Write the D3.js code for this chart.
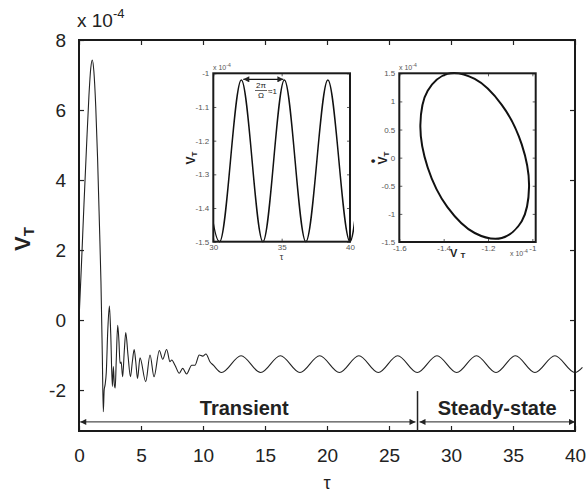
<!DOCTYPE html>
<html>
<head>
<meta charset="utf-8">
<script src="https://cdn.jsdelivr.net/npm/d3@7"></script>
<style>
  html, body { margin: 0; padding: 0; background: #fff; }
  svg text { font-family: "Liberation Sans", Arial, Helvetica, sans-serif; }
</style>
</head>
<body>
<svg id="chart" width="586" height="496"></svg>
<script>
// Transient response V_T (x 1e-4) versus dimensionless time tau
const transientTau = [0, 0.2, 0.4, 0.6, 0.8, 0.95, 1.07, 1.2, 1.35, 1.5, 1.65, 1.77, 1.88, 1.96,
  2.03, 2.1, 2.2, 2.32, 2.45, 2.56, 2.69, 2.77, 2.85, 2.92, 3.0, 3.12, 3.22, 3.31, 3.4, 3.52,
  3.65, 3.77, 3.95, 4.15, 4.3, 4.45, 4.58, 4.72, 4.92, 5.38, 5.73, 6.05, 6.48, 6.75, 7.07,
  7.34, 7.48, 7.74, 8.09, 8.36, 8.68, 9.09, 9.35, 9.7, 9.97, 10.24, 10.56, 10.83];
const transientV = [0, 1.6, 3.3, 4.9, 6.4, 7.2, 7.43, 7.1, 6.1, 4.6, 2.7, 1.1, -1.0, -2.62,
  -2.0, -1.86, -1.5, -0.3, 0.4, -0.4, -1.9, -1.33, -1.85, -1.94, -1.2, -0.15, -0.6, -1.24, -1.2, -1.62,
  -0.9, -0.36, -1.0, -1.62, -1.2, -0.84, -1.2, -1.67, -1.08, -1.76, -1.0, -1.62, -0.87, -1.12, -0.84,
  -1.19, -1.14, -1.29, -1.52, -1.38, -1.54, -1.29, -1.29, -1.0, -1.03, -0.97, -1.19, -1.29];

// Steady-state oscillation: successive troughs and crests
const steadyTau = [11.49, 13.07, 14.65, 16.24, 17.82, 19.41, 21.0, 22.57, 24.14, 25.7, 27.28,
  28.87, 30.46, 32.05, 33.63, 35.2, 36.77, 38.38, 40.0, 40.6];
const steadyV = [-1.5, -1.02, -1.5, -1.02, -1.5, -1.02, -1.5, -1.02, -1.5, -1.02, -1.5,
  -1.02, -1.5, -1.02, -1.5, -1.02, -1.5, -1.02, -1.5, -1.35];

// Phase-plane orbit: V_T (x 1e-4) against dV_T/dtau (x 1e-4)
const orbitV    = [-1.015, -1.048, -1.138, -1.26, -1.383, -1.472, -1.505, -1.472, -1.383, -1.26, -1.138, -1.048];
const orbitVdot = [-0.52, -1.13, -1.43, -1.34, -0.88, -0.175, 0.58, 1.19, 1.49, 1.40, 0.94, 0.235];

// Tick values
const mainXTicks = [0, 5, 10, 15, 20, 25, 30, 35, 40];
const mainYTicks = [-2, 0, 2, 4, 6, 8];
const zoomXTicks = [30, 35, 40];
const zoomYTicks = [-1, -1.1, -1.2, -1.3, -1.4, -1.5];
const orbitXTicks = [-1.6, -1.4, -1.2, -1];
const orbitYTicks = [1.5, 1, 0.5, 0, -0.5, -1, -1.5];

// Region labels
const regionLabels = ["Transient", "Steady-state"];
const regionSplit = 27.3;

const plain = d => String(d);   // keep an ASCII hyphen for negatives

const signal = transientTau.map((t, i) => ({t, v: transientV[i]}))
  .concat(steadyTau.map((t, i) => ({t, v: steadyV[i]})));
const orbit = orbitV.map((v, i) => ({v, d: orbitVdot[i]}));

const svg = d3.select("#chart");
svg.append("rect").attr("width", 586).attr("height", 496).attr("fill", "#fff");

const defs = svg.append("defs");
defs.append("marker").attr("id", "ah").attr("viewBox", "0 0 10 10")
  .attr("refX", 10).attr("refY", 5).attr("markerWidth", 8).attr("markerHeight", 6)
  .attr("markerUnits", "userSpaceOnUse").attr("orient", "auto-start-reverse")
  .append("path").attr("d", "M0,0L10,5L0,10z").attr("fill", "#222");

// ---------- main panel ----------
const x = d3.scaleLinear().domain([0, 40]).range([79, 575]);
const y = d3.scaleLinear().domain([-3.17, 8]).range([431, 40]);

const tickFont = 19;
function styleAxis(g) {
  g.select(".domain").remove();
  g.selectAll(".tick line").attr("stroke", "#222").attr("stroke-width", 1.2);
  g.selectAll(".tick text").attr("fill", "#222").attr("font-size", tickFont);
}

svg.append("g").attr("transform", `translate(0,${y.range()[0]})`)
  .call(d3.axisBottom(x).tickValues(mainXTicks).tickSize(-5).tickPadding(17.5).tickFormat(plain))
  .call(styleAxis);
svg.append("g").attr("transform", `translate(0,${y.range()[1]})`)
  .call(d3.axisTop(x).tickValues(mainXTicks).tickSize(-5).tickFormat(""))
  .call(styleAxis);
svg.append("g").attr("transform", `translate(${x.range()[0]},0)`)
  .call(d3.axisLeft(y).tickValues(mainYTicks).tickSize(-5).tickPadding(13).tickFormat(plain))
  .call(styleAxis);
svg.append("g").attr("transform", `translate(${x.range()[1]},0)`)
  .call(d3.axisRight(y).tickValues(mainYTicks).tickSize(-5).tickFormat(""))
  .call(styleAxis);

// response curve
svg.append("path").datum(signal)
  .attr("fill", "none").attr("stroke", "#222").attr("stroke-width", 1.1)
  .attr("stroke-linejoin", "round")
  .attr("d", d3.line().x(d => x(d.t)).y(d => y(d.v)).curve(d3.curveMonotoneX));

// frame
svg.append("rect").attr("x", x.range()[0]).attr("y", y.range()[1])
  .attr("width", x.range()[1] - x.range()[0]).attr("height", y.range()[0] - y.range()[1])
  .attr("fill", "none").attr("stroke", "#1a1a1a").attr("stroke-width", 2);

// transient / steady-state annotation
const arrowV = -2.91;
svg.append("line").attr("x1", x(regionSplit)).attr("x2", x(regionSplit))
  .attr("y1", y(-2.03)).attr("y2", y.range()[0])
  .attr("stroke", "#222").attr("stroke-width", 1.5);
svg.append("line").attr("x1", x(0.1)).attr("x2", x(regionSplit) - 2)
  .attr("y1", y(arrowV)).attr("y2", y(arrowV))
  .attr("stroke", "#222").attr("stroke-width", 1)
  .attr("marker-start", "url(#ah)").attr("marker-end", "url(#ah)");
svg.append("line").attr("x1", x(regionSplit) + 2).attr("x2", x(40))
  .attr("y1", y(arrowV)).attr("y2", y(arrowV))
  .attr("stroke", "#222").attr("stroke-width", 1)
  .attr("marker-start", "url(#ah)").attr("marker-end", "url(#ah)");
svg.append("text").attr("x", x(regionSplit / 2) - 4).attr("y", 415)
  .attr("text-anchor", "middle").attr("font-size", 20).attr("font-weight", "bold")
  .attr("fill", "#222").text(regionLabels[0]);
svg.append("text").attr("x", (x(regionSplit) + x(40)) / 2 + 1).attr("y", 415)
  .attr("text-anchor", "middle").attr("font-size", 20).attr("font-weight", "bold")
  .attr("fill", "#222").text(regionLabels[1]);

// axis titles
const mult = svg.append("text").attr("x", 77).attr("y", 27).attr("font-size", 19).attr("fill", "#222");
mult.append("tspan").text("x 10");
mult.append("tspan").attr("font-size", 13).attr("dy", -9).text("-4");

svg.append("text").attr("x", (x.range()[0] + x.range()[1]) / 2).attr("y", 489)
  .attr("text-anchor", "middle").attr("font-size", 18).attr("fill", "#222").text("τ");

const yl = svg.append("text").attr("transform", "translate(30,239) rotate(-90)")
  .attr("text-anchor", "middle").attr("font-size", 22).attr("font-weight", "bold").attr("fill", "#222");
yl.append("tspan").text("V");
yl.append("tspan").attr("font-size", 15).attr("dy", 4).text("T");

// ---------- helper for inset panels ----------
function insetAxes(g, sx, sy, xt, yt) {
  const small = g2 => {
    g2.select(".domain").remove();
    g2.selectAll(".tick line").attr("stroke", "#333").attr("stroke-width", 0.8);
    g2.selectAll(".tick text").attr("fill", "#555").attr("font-size", 8);
  };
  g.append("g").attr("transform", `translate(0,${sy.range()[0]})`)
    .call(d3.axisBottom(sx).tickValues(xt).tickSize(-3).tickPadding(3).tickFormat(plain)).call(small);
  g.append("g").attr("transform", `translate(0,${sy.range()[1]})`)
    .call(d3.axisTop(sx).tickValues(xt).tickSize(-3).tickFormat("")).call(small);
  g.append("g").attr("transform", `translate(${sx.range()[0]},0)`)
    .call(d3.axisLeft(sy).tickValues(yt).tickSize(-3).tickPadding(4).tickFormat(plain)).call(small);
  g.append("g").attr("transform", `translate(${sx.range()[1]},0)`)
    .call(d3.axisRight(sy).tickValues(yt).tickSize(-3).tickFormat("")).call(small);
}
function frame(g, sx, sy) {
  g.append("rect").attr("x", sx.range()[0]).attr("y", sy.range()[1])
    .attr("width", sx.range()[1] - sx.range()[0]).attr("height", sy.range()[0] - sy.range()[1])
    .attr("fill", "none").attr("stroke", "#1a1a1a").attr("stroke-width", 2);
}
function smallMult(g, px, py) {
  const t = g.append("text").attr("x", px).attr("y", py).attr("font-size", 7).attr("fill", "#555");
  t.append("tspan").text("x 10");
  t.append("tspan").attr("font-size", 5).attr("dy", -3).text("-4");
}

// ---------- inset 1: steady-state time trace ----------
const g1 = svg.append("g");
const x1 = d3.scaleLinear().domain([30, 40]).range([213.3, 350]);
const y1 = d3.scaleLinear().domain([-1.5, -1]).range([241.7, 73.3]);
g1.append("rect").attr("x", x1.range()[0]).attr("y", y1.range()[1])
  .attr("width", x1.range()[1] - x1.range()[0]).attr("height", y1.range()[0] - y1.range()[1])
  .attr("fill", "#fff");
insetAxes(g1, x1, y1, zoomXTicks, zoomYTicks);
defs.append("clipPath").attr("id", "clip1").append("rect")
  .attr("x", x1.range()[0]).attr("y", y1.range()[1] - 5)
  .attr("width", x1.range()[1] - x1.range()[0] + 4).attr("height", y1.range()[0] - y1.range()[1] + 10);
g1.append("path").datum(steadyTau.map((t, i) => ({t, v: steadyV[i]})).filter(d => d.t >= 28))
  .attr("clip-path", "url(#clip1)")
  .attr("fill", "none").attr("stroke", "#111").attr("stroke-width", 1.5)
  .attr("d", d3.line().x(d => x1(d.t)).y(d => y1(d.v)).curve(d3.curveMonotoneX));
frame(g1, x1, y1);
smallMult(g1, 213, 70);
g1.append("text").attr("x", (x1.range()[0] + x1.range()[1]) / 2).attr("y", 260)
  .attr("text-anchor", "middle").attr("font-size", 9).attr("fill", "#333").text("τ");
const yl1 = g1.append("text").attr("transform", "translate(195,158) rotate(-90)")
  .attr("text-anchor", "middle").attr("font-size", 12).attr("font-weight", "bold").attr("fill", "#222");
yl1.append("tspan").text("V");
yl1.append("tspan").attr("font-size", 8).attr("dy", 2).text("T");

// period annotation between two crests
const crestA = steadyTau[13], crestB = steadyTau[15];
const annV = -1.018;
g1.append("line").attr("x1", x1(crestA) + 2).attr("x2", x1(crestB) - 1)
  .attr("y1", y1(annV)).attr("y2", y1(annV))
  .attr("stroke", "#111").attr("stroke-width", 1.2)
  .attr("marker-start", "url(#ah)").attr("marker-end", "url(#ah)");
const fx = 261;
g1.append("text").attr("x", fx).attr("y", 88).attr("text-anchor", "middle")
  .attr("font-size", 8).attr("fill", "#222").text("2π");
g1.append("line").attr("x1", fx - 6).attr("x2", fx + 6).attr("y1", 90.5).attr("y2", 90.5)
  .attr("stroke", "#222").attr("stroke-width", 0.7);
g1.append("text").attr("x", fx).attr("y", 98).attr("text-anchor", "middle")
  .attr("font-size", 8).attr("fill", "#222").text("Ω");
g1.append("text").attr("x", fx + 7).attr("y", 94).attr("font-size", 8).attr("fill", "#222").text("≈1");

// ---------- inset 2: phase-plane orbit ----------
const g2 = svg.append("g");
const x2 = d3.scaleLinear().domain([-1.6, -0.985]).range([399.3, 535.7]);
const y2 = d3.scaleLinear().domain([-1.5, 1.5]).range([242, 73.3]);
g2.append("rect").attr("x", x2.range()[0]).attr("y", y2.range()[1])
  .attr("width", x2.range()[1] - x2.range()[0]).attr("height", y2.range()[0] - y2.range()[1])
  .attr("fill", "#fff");
insetAxes(g2, x2, y2, orbitXTicks, orbitYTicks);
g2.append("path").datum(orbit)
  .attr("fill", "none").attr("stroke", "#111").attr("stroke-width", 2)
  .attr("d", d3.line().x(d => x2(d.v)).y(d => y2(d.d)).curve(d3.curveCatmullRomClosed.alpha(0.5)));
frame(g2, x2, y2);
smallMult(g2, 399, 70);
smallMult(g2, 510, 256);
const xl2 = g2.append("text").attr("x", 450).attr("y", 257)
  .attr("font-size", 11).attr("font-weight", "bold").attr("fill", "#222");
xl2.append("tspan").text("V ");
xl2.append("tspan").attr("font-size", 8).attr("dy", 1).text("T");
const yl2 = g2.append("text").attr("transform", "translate(387,158) rotate(-90)")
  .attr("text-anchor", "middle").attr("font-size", 12).attr("font-weight", "bold").attr("fill", "#222");
yl2.append("tspan").text("V");
yl2.append("tspan").attr("font-size", 8).attr("dy", 2).text("T");
g2.append("text").attr("transform", "translate(377,161) rotate(-90)")
  .attr("text-anchor", "middle").attr("font-size", 12).attr("font-weight", "bold").attr("fill", "#222").text("•");
</script>
</body>
</html>
